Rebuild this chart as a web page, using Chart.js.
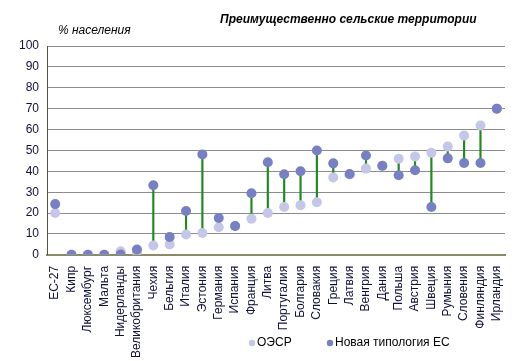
<!DOCTYPE html>
<html>
<head>
<meta charset="utf-8">
<script src="https://cdn.jsdelivr.net/npm/chart.js@4/dist/chart.umd.min.js"></script>
<style>
html,body{margin:0;padding:0;background:#fff;}
#wrap{width:519px;height:361px;position:relative;}
</style>
</head>
<body>
<div id="wrap"><canvas id="c" width="519" height="361"></canvas></div>
<script>
const categories = ["ЕС-27","Кипр","Люксембург","Мальта","Нидерланды","Великобритания","Чехия","Бельгия","Италия","Эстония","Германия","Испания","Франция","Литва","Португалия","Болгария","Словакия","Греция","Латвия","Венгрия","Дания","Польша","Австрия","Швеция","Румыния","Словения","Финляндия","Ирландия"];
const oecd = [20,0,0,0,1.7,1,4.5,5,9.7,10.5,13.2,13.8,17.3,20,22.9,23.8,25.2,37,38.5,41.3,42.5,46,47.1,48.9,51.9,57.1,61.9,70];
const newEU = [24.3,0,0,0,0.2,2.6,33.3,8.6,21,48.1,17.6,13.8,29.5,44.3,38.6,40,50,43.8,38.7,47.6,42.7,38.1,40.5,22.9,46.2,44,44,70];
const yTicks = [0,10,20,30,40,50,60,70,80,90,100];
const seriesNames = ["ОЭСР","Новая типология ЕС"];
const titleText = "Преимущественно сельские территории";
const yAxisTitle = "% населения";

const darkC = "#7880c4";
const lightC = "#c4c7e7";
const FONT = "'Liberation Sans', Arial, sans-serif";
const tickColor = "#10103a";

const ranges = oecd.map((v,i)=>[Math.min(v,newEU[i]), Math.max(v,newEU[i])]);

const textPlugin = {
  id:'texts',
  afterDraw(chart){
    const ctx = chart.ctx;
    ctx.save();
    ctx.fillStyle = "#000";
    ctx.textBaseline = "middle";
    ctx.textAlign = "left";
    ctx.font = "bold italic 12px " + FONT;
    ctx.fillText(titleText, 220, 20);
    ctx.font = "italic 12px " + FONT;
    ctx.fillText(yAxisTitle, 58, 31);
    ctx.font = "12px " + FONT;
    ctx.fillStyle = lightC;
    ctx.beginPath(); ctx.arc(252, 343, 3.2, 0, Math.PI*2); ctx.fill();
    ctx.fillStyle = "#000";
    ctx.fillText(seriesNames[0], 257, 343);
    ctx.fillStyle = darkC;
    ctx.beginPath(); ctx.arc(330, 343, 3.2, 0, Math.PI*2); ctx.fill();
    ctx.fillStyle = "#000";
    ctx.fillText(seriesNames[1], 335, 343);
    ctx.restore();
  }
};

new Chart(document.getElementById('c'), {
  type:'bar',
  data:{
    labels: categories,
    datasets:[
      {type:'bar', label:'range', data: ranges, backgroundColor:'#1e8a1e', barThickness:1.5, order:3},
      {type:'line', label: seriesNames[0], data: oecd, showLine:false, pointRadius:5, pointBackgroundColor:lightC, pointBorderWidth:0, borderColor:lightC, order:2},
      {type:'line', label: seriesNames[1], data: newEU, showLine:false, pointRadius:5, pointBackgroundColor:darkC, pointBorderWidth:0, borderColor:darkC, order:1}
    ]
  },
  options:{
    responsive:false,
    animation:false,
    devicePixelRatio:1,
    layout:{padding:{top:46,right:14,bottom:0,left:0}},
    plugins:{legend:{display:false}, tooltip:{enabled:false}, title:{display:false}},
    scales:{
      x:{
        offset:true,
        grid:{display:false},
        border:{display:true, color:'#8a8a66', width:2},
        ticks:{minRotation:90, maxRotation:90, autoSkip:false, color:tickColor, font:{family:FONT, size:12}, padding:3}
      },
      y:{
        min:0, max:100,
        afterBuildTicks(s){ s.ticks = yTicks.map(v=>({value:v})); },
        grid:{color:(c)=> c.tick && c.tick.value===0 ? 'rgba(0,0,0,0)' : '#8c8c8c', lineWidth:1, drawTicks:false},
        border:{display:true, color:'#55553a', width:1},
        ticks:{color:tickColor, font:{family:FONT, size:12}, padding:8},
        afterFit(s){ s.width = 47; }
      }
    }
  },
  plugins:[textPlugin]
});
</script>
</body>
</html>
